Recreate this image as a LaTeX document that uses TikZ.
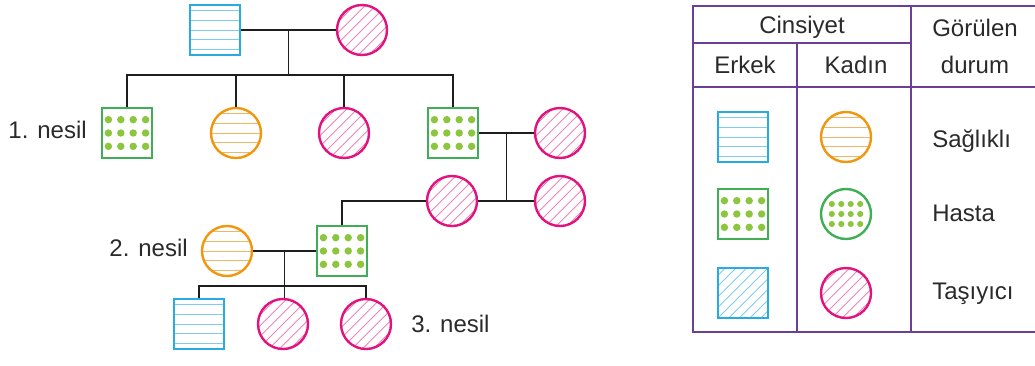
\documentclass[tikz,border=0pt]{standalone}
\usepackage{fontspec}
\setmainfont{Liberation Sans}
\usetikzlibrary{calc}

\definecolor{inkline}{HTML}{1E1E1E}
\definecolor{inktext}{HTML}{2A2A2A}
\definecolor{mblue}{HTML}{29ABE2}
\definecolor{mbluel}{HTML}{7FCDEE}
\definecolor{morange}{HTML}{F0960F}
\definecolor{morangel}{HTML}{F3B466}
\definecolor{mgreen}{HTML}{3FAE55}
\definecolor{mdot}{HTML}{8CC63F}
\definecolor{mmagenta}{HTML}{E2127F}
\definecolor{mmagental}{HTML}{EC85B9}
\definecolor{tablepurple}{HTML}{6B3E98}

\begin{document}
\begin{tikzpicture}[x=0.75pt,y=-0.75pt,
    font=\fontsize{18}{21}\selectfont,
    person/.style={draw,line width=1.8pt,inner sep=0pt,minimum size=37.5pt},
    male/.style={person,rectangle},
    female/.style={person,circle},
    striped/.style={path picture={
      \foreach \d in {-14.6,-7.3,0,7.3,14.6}
        \draw[#1,line width=0.7pt]
          ([yshift=\d pt]path picture bounding box.west) --
          ([yshift=\d pt]path picture bounding box.east);}},
    hatched/.style={path picture={
      \foreach \d in {-56,-48,...,56}
        \draw[#1,line width=0.65pt]
          ([xshift=\d pt]path picture bounding box.center) ++(-30pt,-30pt) -- ++(60pt,60pt);}},
    spotted/.style n args={3}{path picture={
      \foreach \i in {-1.5,-0.5,0.5,1.5}
        \foreach \j in {-1,0,1}
          \fill[mdot] ([xshift=\i*#1,yshift=\j*#2]path picture bounding box.center) circle (#3);}},
    healthym/.style={male,draw=mblue,striped=mbluel},
    healthyf/.style={female,draw=morange,striped=morangel},
    sickm/.style={male,draw=mgreen,spotted={9.3pt}{10pt}{2.8pt}},
    sickf/.style={female,draw=mgreen,spotted={7.1pt}{7.5pt}{2.3pt}},
    carrierm/.style={male,draw=mblue,hatched=mbluel},
    carrierf/.style={female,draw=mmagenta,hatched=mmagental},
    kin/.style={line width=1.1pt,draw=inkline},
    grid/.style={line width=1.5pt,draw=tablepurple},
    lbl/.style={inner sep=0pt,text=inktext}]

  \useasboundingbox (0,0) rectangle (1035,365);

  % --- the first couple and their children ---
  \node[healthym] (p0m) at (215,30) {};
  \node[carrierf] (p0f) at (362,30) {};
  \node[sickm]    (c1a) at (127,133) {};
  \node[healthyf] (c1b) at (236,133) {};
  \node[carrierf] (c1c) at (344,133) {};
  \node[sickm]    (c1d) at (453,133) {};
  \node[carrierf] (w1d) at (560,133) {};

  \coordinate (m0) at ($(p0m.east)!0.5!(p0f.west)$);
  \path (m0) ++(0,45) coordinate (s0);
  \draw[kin] (p0m.east) -- (p0f.west);
  \draw[kin] (m0) -- (s0);
  \draw[kin] (c1a.north) |- (s0) -| (c1d.north);
  \draw[kin] (c1b.north) -- (c1b.north |- s0);
  \draw[kin] (c1c.north) -- (c1c.north |- s0);

  % --- the second generation ---
  \node[sickm]    (c2a) at (342,251) {};
  \node[carrierf] (c2b) at (452,201) {};
  \node[carrierf] (c2c) at (560,201) {};
  \node[healthyf] (w2a) at (227,251) {};

  \coordinate (m1) at ($(c1d.east)!0.5!(w1d.west)$);
  \path (m1) ++(0,68) coordinate (s1);
  \draw[kin] (c1d.east) -- (w1d.west);
  \draw[kin] (m1) -- (s1);
  \draw[kin] (c2a.north) |- (c2b.west);
  \draw[kin] (c2b.east) -- (c2c.west);

  % --- the third generation ---
  \node[healthym] (c3a) at (199,324) {};
  \node[carrierf] (c3b) at (283,324) {};
  \node[carrierf] (c3c) at (366,324) {};

  \coordinate (m2) at ($(w2a.east)!0.5!(c2a.west)$);
  \path (m2) ++(0,35) coordinate (s2);
  \draw[kin] (w2a.east) -- (c2a.west);
  \draw[kin] (m2) -- (m2 |- c3b.north);
  \draw[kin] (c3a.north) |- (s2) -| (c3c.north);

  % --- generation labels ---
  \node[lbl,anchor=base east] (gen1) at (87,138) {1. nesil};
  \node[lbl,anchor=base east] (gen2) at (188,256) {2. nesil};
  \node[lbl,anchor=base west] (gen3) at (411,332) {3. nesil};

  % --- the legend table ---
  \draw[grid] (1035,6) -| (693,332) -- (1035,332);
  \draw[grid] (693,43) -- (911,43);
  \draw[grid] (693,87) -- (1035,87);
  \draw[grid] (797,43) -- (797,332);
  \draw[grid] (911,6) -- (911,332);

  \node[lbl,anchor=base] (hsex)  at (802,33) {Cinsiyet};
  \node[lbl,anchor=base] (hseen) at (975,36) {Görülen};
  \node[lbl,anchor=base] (hmale) at (745,73) {Erkek};
  \node[lbl,anchor=base] (hfem)  at (856,73) {Kadın};
  \node[lbl,anchor=base] (hcase) at (975,73) {durum};

  \node[healthym] (k1m) at (743,137) {};
  \node[healthyf] (k1f) at (846,137) {};
  \node[sickm]    (k2m) at (743,214) {};
  \node[sickf]    (k2f) at (846,214) {};
  \node[carrierm] (k3m) at (743,293) {};
  \node[carrierf] (k3f) at (846,293) {};

  \node[lbl,anchor=base west] (st1) at (932,147) {Sağlıklı};
  \node[lbl,anchor=base west] (st2) at (932,221) {Hasta};
  \node[lbl,anchor=base west] (st3) at (932,299) {Taşıyıcı};
\end{tikzpicture}
\end{document}
